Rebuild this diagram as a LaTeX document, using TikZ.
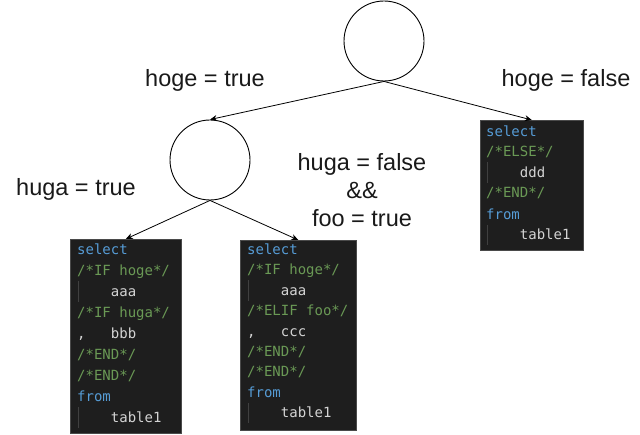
\documentclass[tikz,border=0pt]{standalone}
\usepackage{fontspec}
\setmainfont{Liberation Sans}
\newfontfamily\codefont{DejaVu Sans Mono}
\usetikzlibrary{arrows.meta}

\definecolor{codebg}{HTML}{1E1E1E}
\definecolor{codeedge}{HTML}{4A4A4A}
\definecolor{kwblue}{HTML}{569CD6}
\definecolor{cmgreen}{HTML}{6A9955}
\definecolor{plain}{HTML}{D4D4D4}
\definecolor{guideline}{HTML}{404040}

\begin{document}
\begin{tikzpicture}[x=1pt, y=-1pt,
  cond/.style={circle, draw=black, line width=0.9pt, minimum size=80pt, inner sep=0pt},
  codebox/.style={fill=codebg, draw=codeedge, line width=0.6pt, inner sep=0pt, anchor=north west},
  lbl/.style={font=\fontsize{23.5}{28}\selectfont, text=black!90, inner sep=0pt},
  kw/.style={anchor=base west, inner sep=0pt, font=\codefont\fontsize{14}{17}\selectfont, text=kwblue},
  comment/.style={kw, text=cmgreen},
  tx/.style={kw, text=plain},
  indentguide/.style={draw=guideline, line width=1pt},
  branch/.style={-{Stealth[length=7pt,width=6pt]}, line width=0.8pt}]
\useasboundingbox (0,0) rectangle (640,435);

% decision nodes
\node[cond] (root) at (384,41) {};
\node[cond] (n1) at (210,160) {};

% conditions
\node[lbl] (hogetrue) at (205,80) {hoge = true};
\node[lbl] (hogefalse) at (566,80) {hoge = false};
\node[lbl] (hugatrue) at (76,189) {huga = true};
\node[lbl, align=center] (hugafalse) at (362,190) {huga = false\\\&\&\\foo = true};

% code boxes
\node[codebox, minimum width=111pt, minimum height=194pt] (c1) at (70,239) {};
\node[codebox, minimum width=116pt, minimum height=190pt] (c2) at (240,240) {};
\node[codebox, minimum width=103pt, minimum height=130pt] (c3) at (480,120) {};

% left box
\node[kw] (c1a) at (77,255) {select};
\node[comment] (c1b) at (77,276) {/*IF hoge*/};
\node[tx] (c1c) at (110.7,297) {aaa};
\node[comment] (c1d) at (77,318) {/*IF huga*/};
\node[tx] (c1e) at (77,339) {,};
\node[tx] (c1f) at (110.7,339) {bbb};
\node[comment] (c1g) at (77,360) {/*END*/};
\node[comment] (c1h) at (77,381) {/*END*/};
\node[kw] (c1i) at (77,402) {from};
\node[tx] (c1j) at (110.7,423) {table1};
\draw[indentguide] (78,281.5) -- (78,302.5);
\draw[indentguide] (78,407.5) -- (78,428.5);

% middle box
\node[kw] (c2a) at (247,255) {select};
\node[comment] (c2b) at (247,275) {/*IF hoge*/};
\node[tx] (c2c) at (280.7,295.5) {aaa};
\node[comment] (c2d) at (247,316) {/*ELIF foo*/};
\node[tx] (c2e) at (247,336.5) {,};
\node[tx] (c2f) at (280.7,336.5) {ccc};
\node[comment] (c2g) at (247,357) {/*END*/};
\node[comment] (c2h) at (247,377) {/*END*/};
\node[kw] (c2i) at (247,397.5) {from};
\node[tx] (c2j) at (280.7,418) {table1};
\draw[indentguide] (248,280.5) -- (248,301.5);
\draw[indentguide] (248,403) -- (248,423.5);

% right box
\node[kw] (c3a) at (486,136.5) {select};
\node[comment] (c3b) at (486,157) {/*ELSE*/};
\node[tx] (c3c) at (519.7,177.5) {ddd};
\node[comment] (c3d) at (486,198) {/*END*/};
\node[kw] (c3e) at (486,219.5) {from};
\node[tx] (c3f) at (519.7,240) {table1};
\draw[indentguide] (487,162.5) -- (487,183.5);
\draw[indentguide] (487,225) -- (487,245.5);

% branches
\draw[branch] (root.south) -- (n1.north);
\draw[branch] (root.south) -- (c3.north);
\draw[branch] (n1.south) -- (c1.north);
\draw[branch] (n1.south) -- (c2.north);
\end{tikzpicture}
\end{document}
